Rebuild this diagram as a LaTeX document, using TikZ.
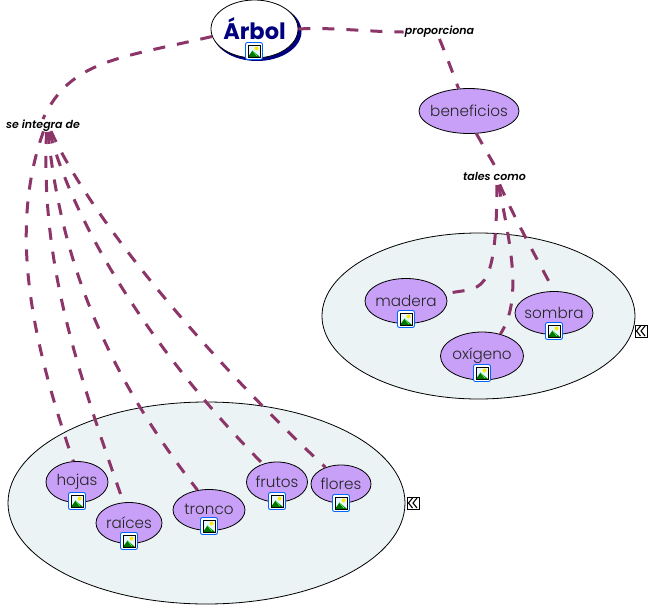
\documentclass[tikz,border=0pt]{standalone}
\usepackage{fontspec}
\usepackage{xcolor}
\setmainfont{Poppins}
\newfontfamily\conceptfont{Poppins Light}
\newfontfamily\labelfont{Poppins SemiBold}
\definecolor{linkcol}{HTML}{8C3568}
\definecolor{conceptcol}{HTML}{C8A0F8}
\definecolor{groupcol}{HTML}{ECF3F5}
\definecolor{rootcol}{HTML}{000080}
\newcommand{\ctext}[1]{\raisebox{1pt}{\makebox[0pt]{#1}}}
\tikzset{
  concept/.style={draw=black, fill=conceptcol, ellipse, line width=0.8pt, inner sep=0pt, font=\conceptfont\fontsize{15.2}{18}\selectfont, text=black!85},
  group/.style={draw=black, fill=groupcol, ellipse, line width=0.8pt, inner sep=0pt},
  linklabel/.style={font=\labelfont\itshape\fontsize{11}{12}\selectfont, inner sep=1pt},
  link/.style={draw=linkcol, line width=3pt, dash pattern=on 12pt off 12pt},
  imgicon/.pic={
    \draw [draw=blue!60!cyan, fill=white, rounded corners=2pt, line width=0.9pt] (-8.5,-8.5) rectangle (8.5,8.5);
    \fill [cyan!10] (-6,-6) rectangle (6,6);
    \fill [yellow!90!orange] (2.5,-2.5) circle (2pt);
    \fill [green!45!black] (-6,6) -- (-1.5,-0.5) -- (6,6) -- cycle;
    \draw [green!60!white, line width=0.7pt] (-1.5,-0.5) -- (3,5);
    \draw [black, line width=0.9pt] (-6,-6) rectangle (6,6);
  },
  collapse/.pic={
    \draw [black, fill=white, line width=0.9pt] (-6,-6) rectangle (6,6);
    \draw [black, line width=1.1pt] (-0.5,-5) -- (-4.5,0) -- (-0.5,5);
    \draw [black, line width=1.1pt] (4,-5) -- (0,0) -- (4,5);
  }
}
\usetikzlibrary{shapes.geometric}
\begin{document}
\begin{tikzpicture}[x=1pt, y=-1pt]
  \useasboundingbox (0,0) rectangle (649,606);
  % Groups
  \node [group, minimum width=397pt, minimum height=202pt] (leftgroup) at (206.5,503) {};
  \node [group, minimum width=313pt, minimum height=166pt] (rightgroup) at (478.5,316) {};
  \pic at (413,503) {collapse};
  \pic at (641,331) {collapse};
  % Root
  \fill [rootcol] (257,31.5) ellipse (44.5pt and 29.5pt);
  \node [draw=black, fill=white, ellipse, line width=0.8pt, inner sep=0pt, minimum width=87pt, minimum height=58pt,
         text=rootcol, font=\fontsize{22.5}{26}\selectfont\bfseries] (arbol) at (254.5,29) {\ctext{Árbol}};
  % Concepts
  \node [concept, minimum width=100pt, minimum height=45pt] (beneficios) at (469,111) {\ctext{beneficios}};
  \node [concept, minimum width=62pt, minimum height=41pt] (hojas) at (77,482) {\ctext{hojas}};
  \node [concept, minimum width=66pt, minimum height=41pt] (raices) at (129,523) {\ctext{raíces}};
  \node [concept, minimum width=72pt, minimum height=41pt] (tronco) at (209,510) {\ctext{tronco}};
  \node [concept, minimum width=61pt, minimum height=40pt] (frutos) at (277,482) {\ctext{frutos}};
  \node [concept, minimum width=60pt, minimum height=38pt] (flores) at (341,484) {\ctext{flores}};
  \node [concept, minimum width=82pt, minimum height=45pt] (madera) at (406,301) {\ctext{madera}};
  \node [concept, minimum width=78pt, minimum height=43pt] (sombra) at (554,313) {\ctext{sombra}};
  \node [concept, minimum width=83pt, minimum height=48pt] (oxigeno) at (482,356) {\ctext{oxígeno}};
  % Link labels
  \node [linklabel] (integra) at (43,126) {se integra de};
  \node [linklabel] (proporciona) at (439.5,32) {proporciona};
  \node [linklabel] (tales) at (494.5,176) {tales como};
  \coordinate (integrahub) at (47,122);
  \coordinate (taleshub) at (497,178);
  % Icons
  \foreach \x/\y in {254/51, 77/501, 129/541, 209/526, 277/501, 341/503, 406/319, 554/331, 482/373}
    \pic at (\x,\y) {imgicon};
  % Links
  \draw [link] (arbol.190) .. controls (120,58) and (70,60) .. (integra.north);
  \draw [link] (arbol.east) .. controls (330,27) and (370,32) .. (proporciona.west);
  \draw [link] (proporciona.south) .. controls (442,45) and (450,65) .. (beneficios.115);
  \draw [link] (beneficios.-72) -- (tales.60);
  \begin{scope}[dash phase=14pt]
    \draw [link] (integrahub) .. controls (8,220) and (28,330) .. (hojas.100);
    \draw [link] (integrahub) .. controls (40,250) and (68,345) .. (raices.105);
    \draw [link] (integrahub) .. controls (58,250) and (100,365) .. (tronco.120);
    \draw [link] (integrahub) .. controls (70,220) and (152,352) .. (frutos.128);
    \draw [link] (integrahub) .. controls (85,215) and (215,365) .. (flores.133);
  \end{scope}
  \begin{scope}[dash phase=17pt]
    \draw [link] (taleshub) .. controls (497,305) and (480,285) .. (madera.10);
    \draw [link] (taleshub) .. controls (512,250) and (522,300) .. (oxigeno.50);
    \draw [link] (taleshub) .. controls (510,210) and (535,255) .. (sombra.north);
  \end{scope}
\end{tikzpicture}
\end{document}
